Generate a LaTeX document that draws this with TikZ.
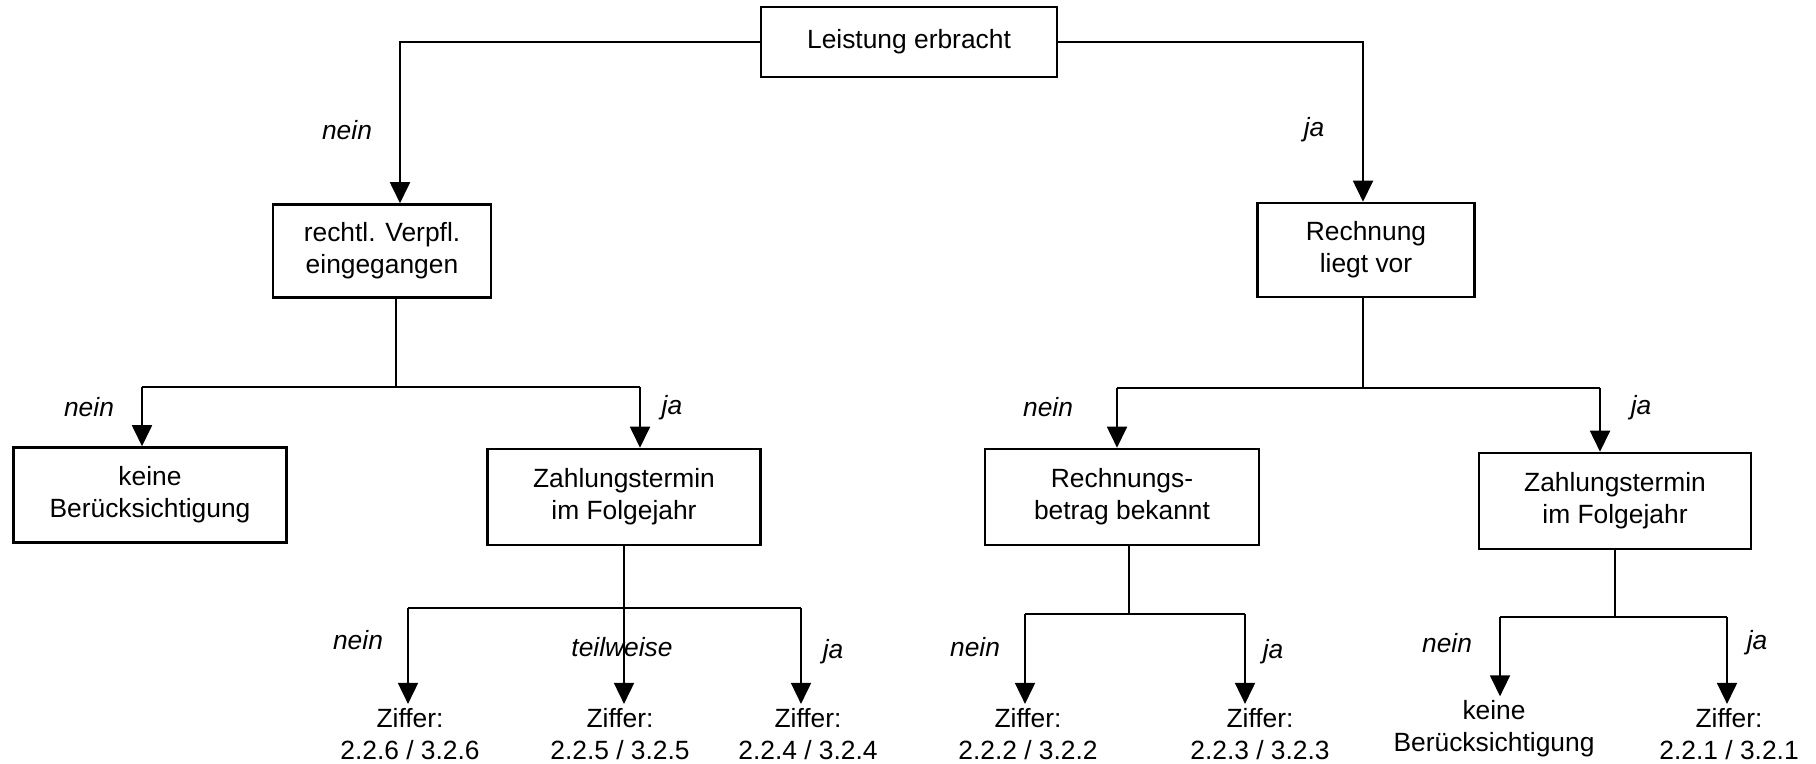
\documentclass[tikz,border=0pt]{standalone}
\usepackage{fontspec}
\setmainfont{Liberation Sans}
\usetikzlibrary{arrows.meta}

\begin{document}
\fontsize{7.5}{9.1}\selectfont
\begin{tikzpicture}[x=0.01cm, y=-0.01cm, line width=.5pt,
	box/.style={draw, line width=.7pt, align=center, inner sep=0pt},
	lbl/.style={font=\itshape},
	ziff/.style={align=center, inner sep=1pt},
	arr/.style={-{Triangle[length=0.21cm,width=0.2cm]}}]

	\useasboundingbox (0,0) rectangle (1816,764);

	% boxes
	\node[box, minimum width=2.96cm, minimum height=0.70cm] (top) at (909,42) {Leistung erbracht};
	\node[box, minimum width=2.18cm, minimum height=0.93cm] (verpfl) at (382,251) {rechtl. Verpfl.\\eingegangen};
	\node[box, minimum width=2.17cm, minimum height=0.94cm] (rechnung) at (1366,250) {Rechnung\\liegt vor};
	\node[box, minimum width=2.73cm, minimum height=0.95cm] (keine) at (150,495) {keine\\Berücksichtigung};
	\node[box, minimum width=2.73cm, minimum height=0.96cm] (zahlL) at (624,497) {Zahlungstermin\\im Folgejahr};
	\node[box, minimum width=2.74cm, minimum height=0.96cm] (betrag) at (1122,497) {Rechnungs-\\betrag bekannt};
	\node[box, minimum width=2.72cm, minimum height=0.96cm] (zahlR) at (1615,501) {Zahlungstermin\\im Folgejahr};

	% results
	\node[ziff] (z226) at (410,734) {Ziffer:\\2.2.6 / 3.2.6};
	\node[ziff] (z225) at (620,734) {Ziffer:\\2.2.5 / 3.2.5};
	\node[ziff] (z224) at (808,734) {Ziffer:\\2.2.4 / 3.2.4};
	\node[ziff] (z222) at (1028,734) {Ziffer:\\2.2.2 / 3.2.2};
	\node[ziff] (z223) at (1260,734) {Ziffer:\\2.2.3 / 3.2.3};
	\node[ziff] (keineR) at (1494,729) {keine\\Berücksichtigung};
	\node[ziff] (z221) at (1729,734) {Ziffer:\\2.2.1 / 3.2.1};

	% junctions
	\coordinate (t1) at (400,0);
	\coordinate (t2) at (1363,0);
	\coordinate (s1) at (396,387);
	\coordinate (b1) at (142,387);
	\coordinate (b2) at (640,387);
	\coordinate (s2) at (1363,388);
	\coordinate (b3) at (1117,388);
	\coordinate (b4) at (1600,388);
	\coordinate (b5) at (408,608);
	\coordinate (b6) at (801,608);
	\coordinate (s4) at (1129,614);
	\coordinate (b7) at (1025,614);
	\coordinate (b8) at (1245,614);
	\coordinate (s5) at (1615,617);
	\coordinate (b9) at (1500,617);
	\coordinate (b10) at (1727,617);

	\draw[arr] (top.west) -| (t1 |- verpfl.north);
	\draw[arr] (top.east) -| (t2 |- rechnung.north);

	\draw (verpfl.south -| s1) -- (s1);
	\draw (b1) -- (b2);
	\draw[arr] (b1) -- (b1 |- keine.north);
	\draw[arr] (b2) -- (b2 |- zahlL.north);

	\draw (rechnung.south -| s2) -- (s2);
	\draw (b3) -- (b4);
	\draw[arr] (b3) -- (b3 |- betrag.north);
	\draw[arr] (b4) -- (b4 |- zahlR.north);

	\draw (b5) -- (b6);
	\draw[arr] (zahlL.south) -- (zahlL.south |- z225.north);
	\draw[arr] (b5) -- (b5 |- z226.north);
	\draw[arr] (b6) -- (b6 |- z224.north);

	\draw (betrag.south -| s4) -- (s4);
	\draw (b7) -- (b8);
	\draw[arr] (b7) -- (b7 |- z222.north);
	\draw[arr] (b8) -- (b8 |- z223.north);

	\draw (zahlR.south) -- (s5);
	\draw (b9) -- (b10);
	\draw[arr] (b9) -- (b9 |- keineR.north);
	\draw[arr] (b10) -- (b10 |- z221.north);

	% labels
	\node[lbl] (n1) at (347,130) {nein};
	\node[lbl] (j1) at (1314,130) {ja};
	\node[lbl] (n2) at (89,407) {nein};
	\node[lbl] (j2) at (672,408) {ja};
	\node[lbl] (n3) at (1048,407) {nein};
	\node[lbl] (j3) at (1641,408) {ja};
	\node[lbl] (n4) at (358,640) {nein};
	\node[lbl] (tw) at (622,647) {teilweise};
	\node[lbl] (j4) at (833,652) {ja};
	\node[lbl] (n5) at (975,647) {nein};
	\node[lbl] (j5) at (1273,652) {ja};
	\node[lbl] (n6) at (1447,643) {nein};
	\node[lbl] (j6) at (1757,643) {ja};

\end{tikzpicture}
\end{document}
